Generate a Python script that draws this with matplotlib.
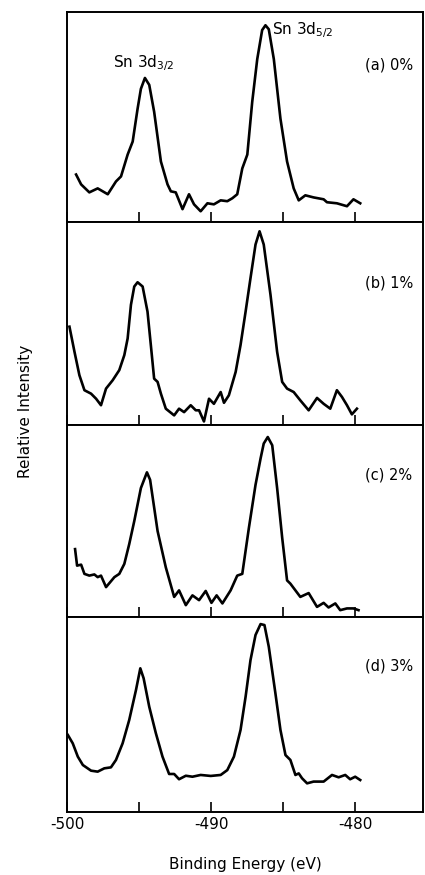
import matplotlib.pyplot as plt

plt.rcParams['axes.unicode_minus'] = False

# binding energy (eV) and relative intensity
energy_a = [-499.38, -499.03, -498.46, -497.88, -497.18, -496.61, -496.26, -495.80, -495.45, -495.11,
            -494.88, -494.60, -494.30, -493.96, -493.49, -493.03, -492.80, -492.46, -491.99, -491.54,
            -491.19, -490.73, -490.26, -489.81, -489.34, -488.88, -488.53, -488.19, -487.84, -487.49,
            -487.15, -486.80, -486.46, -486.23, -486.00, -485.65, -485.19, -484.73, -484.27, -483.92,
            -483.46, -482.89, -482.19, -481.96, -481.27, -480.57, -480.12, -479.65]
intensity_a = [22.7, 18.0, 14.2, 16.1, 13.3, 19.4, 21.8, 32.2, 38.4, 54.0,
               63.5, 68.7, 65.4, 52.6, 28.9, 18.0, 14.7, 14.2, 6.2, 13.3,
               8.5, 5.2, 9.0, 8.5, 10.4, 10.0, 11.4, 13.3, 25.6, 32.2,
               57.3, 77.7, 91.5, 93.8, 91.9, 77.7, 49.3, 28.9, 16.1, 10.4,
               12.8, 11.8, 10.9, 9.5, 9.0, 7.6, 10.9, 9.0]

energy_b = [-499.84, -499.49, -499.15, -498.80, -498.34, -497.99, -497.65, -497.30, -496.84, -496.38,
            -496.03, -495.80, -495.57, -495.34, -495.11, -494.76, -494.42, -494.19, -493.96, -493.72,
            -493.49, -493.15, -492.57, -492.23, -491.88, -491.42, -491.07, -490.84, -490.50, -490.15,
            -489.81, -489.34, -489.11, -488.77, -488.30, -487.96, -487.61, -487.27, -486.92, -486.64,
            -486.35, -485.88, -485.42, -485.07, -484.73, -484.27, -483.81, -483.23, -482.65, -482.19,
            -481.73, -481.27, -480.92, -480.57, -480.23, -479.88]
intensity_b = [48.5, 36.1, 24.6, 17.2, 15.5, 13.0, 9.8, 18.0, 22.1, 27.1,
               34.5, 42.7, 59.3, 68.3, 70.4, 68.3, 55.9, 39.5, 22.9, 21.3,
               15.5, 8.1, 4.8, 8.1, 6.4, 9.8, 7.3, 7.3, 1.8, 13.0,
               10.5, 16.3, 11.0, 14.7, 26.2, 39.5, 55.9, 72.4, 89.0, 95.5,
               89.0, 64.2, 36.1, 21.3, 18.0, 16.3, 12.2, 7.3, 13.4, 10.5,
               8.1, 17.2, 13.9, 9.8, 5.3, 8.1]

energy_c = [-499.45, -499.31, -499.03, -498.80, -498.46, -498.11, -497.88, -497.65, -497.30, -496.72,
            -496.38, -496.03, -495.69, -495.34, -494.88, -494.46, -494.24, -493.72, -493.15, -492.57,
            -492.23, -491.76, -491.30, -490.84, -490.38, -489.98, -489.62, -489.22, -488.65, -488.19,
            -487.84, -487.38, -486.92, -486.57, -486.35, -486.07, -485.76, -485.42, -485.07, -484.73,
            -484.50, -484.15, -483.81, -483.23, -482.65, -482.19, -481.85, -481.38, -481.04, -480.57,
            -480.12, -479.77]
intensity_c = [35.4, 26.8, 27.3, 22.5, 21.6, 22.2, 20.8, 21.6, 15.6, 20.8,
               22.5, 27.7, 38.0, 50.0, 67.2, 75.4, 71.5, 44.8, 25.9, 10.5,
               13.9, 6.2, 11.3, 8.8, 13.6, 7.4, 11.3, 7.1, 13.9, 21.6,
               22.5, 46.5, 68.9, 82.6, 90.4, 93.8, 89.5, 67.2, 41.4, 19.1,
               17.4, 13.9, 10.5, 12.5, 5.3, 7.4, 5.0, 7.1, 3.6, 4.5,
               4.5, 3.6]

energy_d = [-499.95, -499.61, -499.26, -498.91, -498.34, -497.88, -497.42, -496.96, -496.61, -496.15,
            -495.69, -495.22, -494.92, -494.69, -494.30, -493.84, -493.38, -492.92, -492.57, -492.23,
            -491.76, -491.30, -490.73, -490.03, -489.34, -488.88, -488.42, -487.96, -487.61, -487.27,
            -486.92, -486.57, -486.30, -486.00, -485.54, -485.19, -484.84, -484.50, -484.15, -483.92,
            -483.69, -483.34, -482.89, -482.19, -481.61, -481.15, -480.69, -480.35, -480.00, -479.65]
intensity_d = [39.5, 35.2, 28.4, 24.1, 21.2, 20.7, 22.4, 22.9, 26.7, 35.2,
               47.2, 62.6, 73.7, 68.6, 54.0, 40.4, 28.4, 19.5, 19.5, 16.8,
               18.6, 18.1, 19.0, 18.5, 19.0, 21.5, 28.4, 42.1, 59.1, 77.9,
               90.8, 96.4, 95.9, 84.8, 60.9, 42.1, 29.2, 26.7, 19.0, 19.8,
               17.3, 14.7, 15.6, 15.6, 19.0, 17.8, 19.0, 16.8, 18.1, 16.4]

panel_labels = ["(a) 0%", "(b) 1%", "(c) 2%", "(d) 3%"]
label_heights = [75, 70, 74, 75]
energies = [energy_a, energy_b, energy_c, energy_d]
intensities = [intensity_a, intensity_b, intensity_c, intensity_d]
xticks = [-500, -495, -490, -485, -480]
xticklabels = ["-500", "", "-490", "", "-480"]

fig, axes = plt.subplots(4, 1, figsize=(4.25, 8.75), dpi=100, sharex=True,
                         gridspec_kw={'height_ratios': [210, 203, 192, 195], 'hspace': 0})
fig.subplots_adjust(left=0.158, right=0.995, top=0.986, bottom=0.072)

for ax, e, inten, lab, ly in zip(axes, energies, intensities, panel_labels, label_heights):
    ax.plot(e, inten, color='black', linewidth=1.9)
    ax.set_xlim(-500, -475.3)
    ax.set_ylim(0, 100)
    ax.set_yticks([])
    ax.set_xticks(xticks)
    ax.tick_params(axis='x', direction='in', length=7, width=1.2, labelsize=11)
    for s in ax.spines.values():
        s.set_linewidth(1.4)
    ax.text(-479.3, ly, lab, fontsize=10.5, ha='left', va='center')

axes[-1].set_xticklabels(xticklabels)
axes[-1].set_xlabel("Binding Energy (eV)", fontsize=11, labelpad=18)

axes[0].text(-496.8, 71, r"Sn 3d$_{3/2}$", fontsize=11, ha='left', va='bottom')
axes[0].text(-485.8, 87, r"Sn 3d$_{5/2}$", fontsize=11, ha='left', va='bottom')

fig.text(0.06, 0.53, "Relative Intensity", rotation=90, fontsize=11, ha='center', va='center')

plt.savefig("out.png", dpi=100)
